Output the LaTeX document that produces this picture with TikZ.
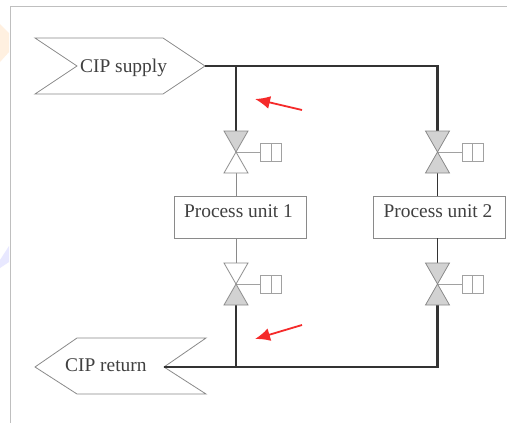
\documentclass[tikz,border=0pt]{standalone}
\usepackage{fontspec}
\setmainfont{Liberation Serif}
\usetikzlibrary{arrows.meta,calc}
\definecolor{thinl}{HTML}{8A8A8A}
\definecolor{thickl}{HTML}{333333}
\definecolor{valvefill}{HTML}{D2D2D2}
\definecolor{arrowred}{HTML}{F52A2A}
\tikzset{
  outline/.style={draw=thinl,line width=0.8pt,fill=white},
  pipe/.style={draw=thickl,line width=2.1pt},
  feed/.style={draw=thinl,line width=0.9pt},
  label/.style={font=\fontsize{19.4}{21}\selectfont,text=black!75,inner sep=0pt},
  redarrow/.style={draw=arrowred,line width=1.8pt,-{Latex[length=15pt,width=13pt]}},
  actuator/.pic={
    \draw[thinl!80,line width=0.7pt] (0,0) -- (24.5,0);
    \draw[thinl!80,line width=0.7pt,fill=white] (24.5,-9) rectangle (45.5,9);
    \draw[thinl!80,line width=0.7pt] (35,-9) -- (35,9);
  }
}
\begin{document}
\begin{tikzpicture}[x=1pt,y=-1pt]
\useasboundingbox (0,0) rectangle (507,423);
\fill[white] (0,0) rectangle (507,423);
\fill[orange!12] (0,24) -- (9,33) -- (9,52) -- (0,62) -- cycle;
\fill[blue!9] (0,260) -- (9,246) -- (9,262) -- (0,268) -- cycle;
\draw[black!25,line width=0.7pt] (507,6) -- (10.5,6) -- (10.5,423);

\coordinate (v1c) at (236,152);
\coordinate (v2c) at (437.5,152);
\coordinate (v3c) at (236,284);
\coordinate (v4c) at (437.5,284);

\path[outline] (35,38) -- (163,38) -- (205,66) -- (163,94) -- (35,94) -- (77,66) -- cycle;
\coordinate (supplytip) at (205,66);
\node[label,anchor=base west] (supply) at (80,72.5) {CIP supply};
\path[outline] (35,367) -- (77,338) -- (206,338) -- (164,367) -- (206,394) -- (77,394) -- cycle;
\coordinate (returntip) at (164,367);
\node[label,anchor=base west] (return) at (65,371.5) {CIP return};

\node[outline,inner sep=0pt,anchor=north west,minimum height=42pt,minimum width=132pt] (pu1) at (174,196) {};
\node[outline,inner sep=0pt,anchor=north west,minimum height=42pt,minimum width=132pt] (pu2) at (373,196) {};
\node[label,anchor=base] (pu1t) at (238.5,217) {Process unit 1};
\node[label,anchor=base] (pu2t) at (438,217) {Process unit 2};

\coordinate (j1) at (236,66);
\coordinate (k1) at (437.5,66);
\coordinate (j2) at (236,367);
\coordinate (k2) at (437.5,367);
\coordinate (v1t) at (236,131);
\coordinate (v1b) at (236,173);
\coordinate (v2t) at (437.5,131);
\coordinate (v2b) at (437.5,173);
\coordinate (v3t) at (236,263);
\coordinate (v3b) at (236,305);
\coordinate (v4t) at (437.5,263);
\coordinate (v4b) at (437.5,305);
\coordinate (u1t) at (236,196);
\coordinate (u1b) at (236,238);
\coordinate (u2t) at (437.5,196);
\coordinate (u2b) at (437.5,238);

\draw[pipe] (supplytip) -- (k1) -- (v2t);
\draw[pipe] (j1) -- (v1t);
\draw[pipe] (returntip) -- (k2) -- (v4b);
\draw[pipe] (j2) -- (v3b);
\draw[pipe,line width=1.6pt] (v2b) -- (u2t);
\draw[pipe,line width=1.6pt] (u2b) -- (v4t);
\draw[feed] (v1b) -- (u1t);
\draw[feed] (u1b) -- (v3t);

\foreach \c/\ftop/\fbot in {v1c/valvefill/white,v2c/valvefill/valvefill,v3c/white/valvefill,v4c/valvefill/valvefill}{
  \pic at (\c) {actuator};
  \draw[outline,fill=\ftop] ($(\c)+(-12,-21)$) -- ($(\c)+(12,-21)$) -- (\c) -- cycle;
  \draw[outline,fill=\fbot] ($(\c)+(-12,21)$) -- ($(\c)+(12,21)$) -- (\c) -- cycle;
}

\coordinate (a1s) at (302,110);
\coordinate (a1e) at (255,99);
\coordinate (a2s) at (302,325);
\coordinate (a2e) at (255,339);
\draw[redarrow] (a1s) -- (a1e);
\draw[redarrow] (a2s) -- (a2e);
\end{tikzpicture}
\end{document}
